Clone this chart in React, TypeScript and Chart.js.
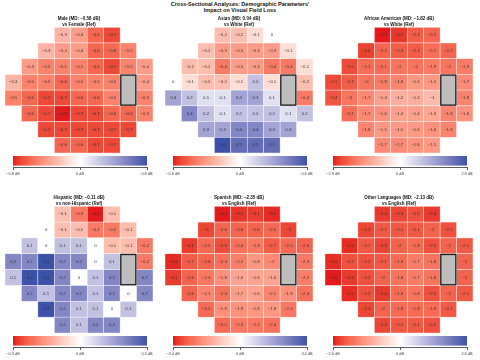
import React, { useEffect, useRef } from "react";
import { Chart, registerables } from "chart.js";

Chart.register(...registerables);
Chart.defaults.font.family = "'Liberation Sans', Arial, Helvetica, sans-serif";

// ---------- DATA ----------
// 24-2 visual field layout: first column index of each row (9-column grid)
const ROW_START = [3, 2, 1, 0, 0, 1, 2, 3];
// blind spot location (column, rows)
const BLIND_COL = 7;
const BLIND_ROWS = [3, 4];

const MALE_VS_FEMALE = [
  [-0.3, -0.4, -0.6, -0.7],
  [-0.3, -0.4, -0.4, -0.6, -0.6, -0.5],
  [-0.4, -0.5, -0.5, -0.5, -0.6, -0.7, -0.5, -0.4],
  [-0.3, -0.5, -0.5, -0.6, -0.5, -0.5, -0.5, null, -0.4],
  [-0.5, -0.6, -0.7, -0.7, -0.6, -0.6, -0.5, null, -0.5],
  [-0.6, -0.7, -0.8, -0.7, -0.7, -0.6, -0.6, -0.5],
  [-0.7, -0.7, -0.7, -0.7, -0.7, -0.7],
  [-0.6, -0.6, -0.7, -0.7],
];

const ASIAN_VS_WHITE = [
  [-0.2, -0.2, -0.1, 0],
  [-0.2, -0.3, -0.3, -0.3, -0.3, -0.1],
  [-0.2, -0.2, -0.4, -0.3, -0.3, -0.4, -0.4, -0.1],
  [0, -0.1, -0.2, -0.2, -0.1, 0.2, -0.1, null, -0.2],
  [0.3, 0.2, 0.1, 0.1, 0.3, 0.3, 0.1, null, -0.4],
  [0.4, 0.2, 0.1, 0.2, 0.2, 0.2, 0.1, 0.2],
  [0.3, 0.3, 0.4, 0.4, 0.3, 0.3],
  [0.6, 0.5, 0.5, 0.5],
];

const AFRICAN_AMERICAN_VS_WHITE = [
  [-2.9, -2.7, -2.3, -2.2],
  [-2.6, -2.2, -2.3, -2.3, -2.1, -2.2],
  [-2.5, -2.1, -2.1, -2, -2, -1.9, -2, -1.9],
  [-2.5, -2.3, -2, -1.9, -1.8, -1.5, -1.5, null, -1.7],
  [-2.4, -2, -1.7, -1.4, -1.2, -1.2, -1, null, -1.8],
  [-2.1, -1.7, -1.6, -1.4, -1.4, -1.3, -1.8, -1.6],
  [-1.8, -1.5, -1.5, -1.5, -1.6, -1.8],
  [-1.7, -1.7, -1.6, -1.5],
];

const HISPANIC_VS_NON = [
  [-0.1, -0.2, -0.3, -0.1],
  [0, -0.1, -0.1, -0.2, -0.2, -0.1],
  [0.1, 0, 0.1, 0.1, 0, -0.1, -0.1, -0.2],
  [0.2, 0.2, 0.3, 0.2, 0.2, 0, 0.1, null, -0.2],
  [0.1, 0.3, 0.3, 0.2, 0, 0.1, 0.2, null, 0.2],
  [0.2, 0.1, 0.2, 0.2, 0.1, 0.2, 0, 0.2],
  [0.3, 0.2, 0.1, 0.1, 0, 0.1],
  [0.2, 0.1, 0.2, 0.2],
];

const SPANISH_VS_ENGLISH = [
  [-3.4, -3.2, -3.1, -3.3],
  [-3, -2.6, -2.6, -2.6, -2.5, -3],
  [-3.1, -2.5, -2.9, -2.4, -2.3, -2.7, -2.5, -2.6],
  [-3.3, -2.7, -2.6, -2.4, -2.2, -1.8, -2, null, -2.3],
  [-3.1, -2.6, -2.3, -1.9, -1.6, -1.6, -1.6, null, -2.2],
  [-2.6, -2.1, -2.4, -1.7, -1.6, -2.1, -1.9, -2.4],
  [-2.5, -1.9, -1.9, -1.8, -1.8, -2.3],
  [-2.5, -2.3, -2.3, -2.4],
];

const OTHER_LANG_VS_ENGLISH = [
  [-2.4, -2.3, -2.2, -2.4],
  [-2.3, -2.1, -2.1, -2.1, -2, -2.2],
  [-2.5, -2.1, -2.3, -2, -1.9, -2.2, -2, -2.1],
  [-2.5, -2.2, -2.2, -2.1, -1.9, -1.7, -1.8, null, -2],
  [-2.6, -2.4, -2.2, -2, -1.8, -1.7, -1.8, null, -2],
  [-2.5, -2.2, -2.4, -1.9, -1.8, -2.2, -2, -2.1],
  [-2.3, -2, -1.9, -1.9, -1.9, -2.1],
  [-2.3, -2.1, -2.1, -2.2],
];

const PANEL_VALUES = [
  MALE_VS_FEMALE,
  ASIAN_VS_WHITE,
  AFRICAN_AMERICAN_VS_WHITE,
  HISPANIC_VS_NON,
  SPANISH_VS_ENGLISH,
  OTHER_LANG_VS_ENGLISH,
];

const PANEL_TITLES = [
  ["Male (MD: \u22120.58 dB)", "vs Female (Ref)"],
  ["Asian (MD: 0.04 dB)", "vs White (Ref)"],
  ["African American (MD: \u22121.82 dB)", "vs White (Ref)"],
  ["Hispanic (MD: \u22120.11 dB)", "vs non-Hispanic (Ref)"],
  ["Spanish (MD: \u22122.35 dB)", "vs English (Ref)"],
  ["Other Languages (MD: \u22122.13 dB)", "vs English (Ref)"],
];

// symmetric colour-bar limits (dB)
const PANEL_LIMITS = [0.8, 0.6, 2.9, 0.3, 3.4, 2.6];

const MAIN_TITLE = [
  "Cross-Sectional Analyses: Demographic Parameters'",
  "Impact on Visual Field Loss",
];

const LOW_COLOR = "#E41A1C";
const MID_COLOR = "#FFFFFF";
const HIGH_COLOR = "#3C52A8";

// ---------- colour helpers (Lab interpolation) ----------
function hexToRgb(h: string) {
  const n = parseInt(h.slice(1), 16);
  return [(n >> 16) & 255, (n >> 8) & 255, n & 255];
}
function toLin(c: number) {
  c /= 255;
  return c <= 0.04045 ? c / 12.92 : Math.pow((c + 0.055) / 1.055, 2.4);
}
function fromLin(c: number) {
  const v = c <= 0.0031308 ? 12.92 * c : 1.055 * Math.pow(c, 1 / 2.4) - 0.055;
  return Math.max(0, Math.min(255, Math.round(v * 255)));
}
const WX = 0.95047, WY = 1.0, WZ = 1.08883;
function rgbToLab(rgb: number[]) {
  const r = toLin(rgb[0]), g = toLin(rgb[1]), b = toLin(rgb[2]);
  const x = (r * 0.4124 + g * 0.3576 + b * 0.1805) / WX;
  const y = (r * 0.2126 + g * 0.7152 + b * 0.0722) / WY;
  const z = (r * 0.0193 + g * 0.1192 + b * 0.9505) / WZ;
  const f = (t: number) => (t > 0.008856 ? Math.cbrt(t) : 7.787 * t + 16 / 116);
  const fx = f(x), fy = f(y), fz = f(z);
  return [116 * fy - 16, 500 * (fx - fy), 200 * (fy - fz)];
}
function labToRgb(lab: number[]) {
  const fy = (lab[0] + 16) / 116;
  const fx = fy + lab[1] / 500;
  const fz = fy - lab[2] / 200;
  const inv = (t: number) => (t * t * t > 0.008856 ? t * t * t : (t - 16 / 116) / 7.787);
  const x = inv(fx) * WX, y = inv(fy) * WY, z = inv(fz) * WZ;
  const r = x * 3.2406 + y * -1.5372 + z * -0.4986;
  const g = x * -0.9689 + y * 1.8758 + z * 0.0415;
  const b = x * 0.0557 + y * -0.204 + z * 1.057;
  return [fromLin(r), fromLin(g), fromLin(b)];
}
const LAB_LOW = rgbToLab(hexToRgb(LOW_COLOR));
const LAB_MID = rgbToLab(hexToRgb(MID_COLOR));
const LAB_HIGH = rgbToLab(hexToRgb(HIGH_COLOR));
function colorFor(v: number, lim: number) {
  let t = v / lim;
  t = Math.max(-1, Math.min(1, t));
  const end = t < 0 ? LAB_LOW : LAB_HIGH;
  const a = Math.abs(t);
  const lab = [0, 1, 2].map((i) => LAB_MID[i] + (end[i] - LAB_MID[i]) * a);
  const rgb = labToRgb(lab);
  return `rgb(${rgb[0]},${rgb[1]},${rgb[2]})`;
}
function fmtNum(v: number) {
  if (v === 0) return "0";
  return (v < 0 ? "\u2212" : "") + String(Math.abs(v));
}

// ---------- layout ----------
const PANEL_LEFT = [5, 165, 325];
const PANEL_W = 148;
const ROW_TOP = [16, 195];
const GRID_CANVAS_H = [137, 138];
const CB_TOP = [156, 336];

function cellPlugin(lim: number) {
  return {
    id: "vfcells",
    afterDatasetsDraw(chart: any) {
      const ctx = chart.ctx;
      const xs = chart.scales.x;
      const ys = chart.scales.y;
      const pts = chart.data.datasets[0].data as any[];
      ctx.save();
      for (const p of pts) {
        const x0 = xs.getPixelForValue(p.x - 0.5);
        const x1 = xs.getPixelForValue(p.x + 0.5);
        const y0 = ys.getPixelForValue(p.y - 0.5);
        const y1 = ys.getPixelForValue(p.y + 0.5);
        ctx.fillStyle = colorFor(p.v, lim);
        ctx.fillRect(x0, y0, x1 - x0, y1 - y0);
        ctx.strokeStyle = "rgba(255,255,255,0.8)";
        ctx.lineWidth = 0.5;
        ctx.strokeRect(x0, y0, x1 - x0, y1 - y0);
      }
      ctx.fillStyle = "#333333";
      ctx.font = "4.3px 'Liberation Sans', Arial, sans-serif";
      ctx.textAlign = "center";
      ctx.textBaseline = "middle";
      for (const p of pts) {
        ctx.fillText(fmtNum(p.v), xs.getPixelForValue(p.x), ys.getPixelForValue(p.y));
      }
      // blind spot
      const bx0 = xs.getPixelForValue(BLIND_COL - 0.5) + 0.7;
      const bx1 = xs.getPixelForValue(BLIND_COL + 0.5) - 0.7;
      const by0 = ys.getPixelForValue(BLIND_ROWS[0] - 0.5) + 0.7;
      const by1 = ys.getPixelForValue(BLIND_ROWS[BLIND_ROWS.length - 1] + 0.5) - 0.7;
      ctx.fillStyle = "#BEBEBE";
      ctx.fillRect(bx0, by0, bx1 - bx0, by1 - by0);
      ctx.strokeStyle = "#1a1a1a";
      ctx.lineWidth = 1.3;
      ctx.strokeRect(bx0, by0, bx1 - bx0, by1 - by0);
      ctx.restore();
    },
  };
}

function GridPanel({ idx }: { idx: number }) {
  const ref = useRef<HTMLCanvasElement>(null);
  useEffect(() => {
    const values = PANEL_VALUES[idx];
    const points: any[] = [];
    values.forEach((row, r) =>
      row.forEach((v, i) => {
        if (v !== null) points.push({ x: ROW_START[r] + i, y: r, v });
      })
    );
    const chart = new Chart(ref.current as HTMLCanvasElement, {
      type: "scatter",
      data: { datasets: [{ data: points, pointRadius: 0, pointHoverRadius: 0 }] },
      options: {
        animation: false,
        responsive: true,
        maintainAspectRatio: false,
        events: [],
        layout: { padding: 0 },
        scales: {
          x: { type: "linear", min: -0.5, max: 8.5, display: false },
          y: { type: "linear", min: -0.5, max: 7.5, reverse: true, display: false },
        },
        plugins: {
          legend: { display: false },
          tooltip: { enabled: false },
          title: {
            display: true,
            text: PANEL_TITLES[idx],
            color: "#111111",
            font: { size: 4.5, weight: "bold", lineHeight: 1.25 },
            padding: { top: 0, bottom: 0 },
          },
        },
      } as any,
      plugins: [cellPlugin(PANEL_LIMITS[idx]) as any],
    });
    return () => chart.destroy();
  }, [idx]);
  const r = Math.floor(idx / 3);
  const c = idx % 3;
  return (
    <div
      style={{
        position: "absolute",
        left: PANEL_LEFT[c],
        top: ROW_TOP[r],
        width: PANEL_W,
        height: GRID_CANVAS_H[r],
      }}
    >
      <canvas ref={ref} />
    </div>
  );
}

const gradientPlugin = (lim: number) => ({
  id: "cbgrad",
  beforeDatasetsDraw(chart: any) {
    const { ctx, chartArea } = chart;
    const xs = chart.scales.x;
    const left = xs.getPixelForValue(-lim);
    const right = xs.getPixelForValue(lim);
    const g = ctx.createLinearGradient(left, 0, right, 0);
    const N = 40;
    for (let i = 0; i <= N; i++) {
      const v = -lim + (2 * lim * i) / N;
      g.addColorStop(i / N, colorFor(v, lim));
    }
    ctx.save();
    ctx.fillStyle = g;
    ctx.fillRect(left, chartArea.top, right - left, chartArea.bottom - chartArea.top - 1.4);
    ctx.restore();
  },
});

function ColorBar({ idx }: { idx: number }) {
  const ref = useRef<HTMLCanvasElement>(null);
  useEffect(() => {
    const lim = PANEL_LIMITS[idx];
    const tickValues = [-lim, 0, lim];
    const chart = new Chart(ref.current as HTMLCanvasElement, {
      type: "scatter",
      data: { datasets: [{ data: [], pointRadius: 0 }] },
      options: {
        animation: false,
        responsive: true,
        maintainAspectRatio: false,
        events: [],
        layout: { padding: { left: 13, right: 11, top: 0, bottom: 0 } },
        scales: {
          x: {
            type: "linear",
            min: -lim,
            max: lim,
            offset: false,
            afterBuildTicks: (axis: any) => {
              axis.ticks = tickValues.map((v) => ({ value: v }));
            },
            ticks: {
              autoSkip: false,
              maxRotation: 0,
              padding: 2,
              color: "#444444",
              font: { size: 3.9 },
              callback: (v: any) => fmtNum(Number(v)) + " dB",
            },
            grid: {
              display: true,
              drawOnChartArea: false,
              drawTicks: true,
              tickLength: 3,
              color: "#333333",
              lineWidth: 0.8,
            },
            border: { display: true, color: "#333333", width: 0.8 },
          },
          y: { type: "linear", min: 0, max: 1, display: false },
        },
        plugins: {
          legend: { display: false },
          tooltip: { enabled: false },
          title: { display: false },
        },
      } as any,
      plugins: [gradientPlugin(lim) as any],
    });
    return () => chart.destroy();
  }, [idx]);
  const r = Math.floor(idx / 3);
  const c = idx % 3;
  return (
    <div
      style={{
        position: "absolute",
        left: PANEL_LEFT[c] - 5,
        top: CB_TOP[r],
        width: 158,
        height: 22,
      }}
    >
      <canvas ref={ref} />
    </div>
  );
}

export default function App() {
  return (
    <div
      style={{
        position: "fixed",
        left: 0,
        top: 0,
        width: 480,
        height: 360,
        background: "#ffffff",
        overflow: "hidden",
        fontFamily: "'Liberation Sans', Arial, Helvetica, sans-serif",
      }}
    >
      <div
        style={{
          position: "absolute",
          left: 0,
          top: 2,
          width: 480,
          textAlign: "center",
          fontWeight: "bold",
          fontSize: "5.5px",
          lineHeight: "5.8px",
          color: "#111111",
        }}
      >
        {MAIN_TITLE.map((t) => (
          <div key={t}>{t}</div>
        ))}
      </div>
      {[0, 1, 2, 3, 4, 5].map((i) => (
        <GridPanel key={"g" + i} idx={i} />
      ))}
      {[0, 1, 2, 3, 4, 5].map((i) => (
        <ColorBar key={"c" + i} idx={i} />
      ))}
    </div>
  );
}
